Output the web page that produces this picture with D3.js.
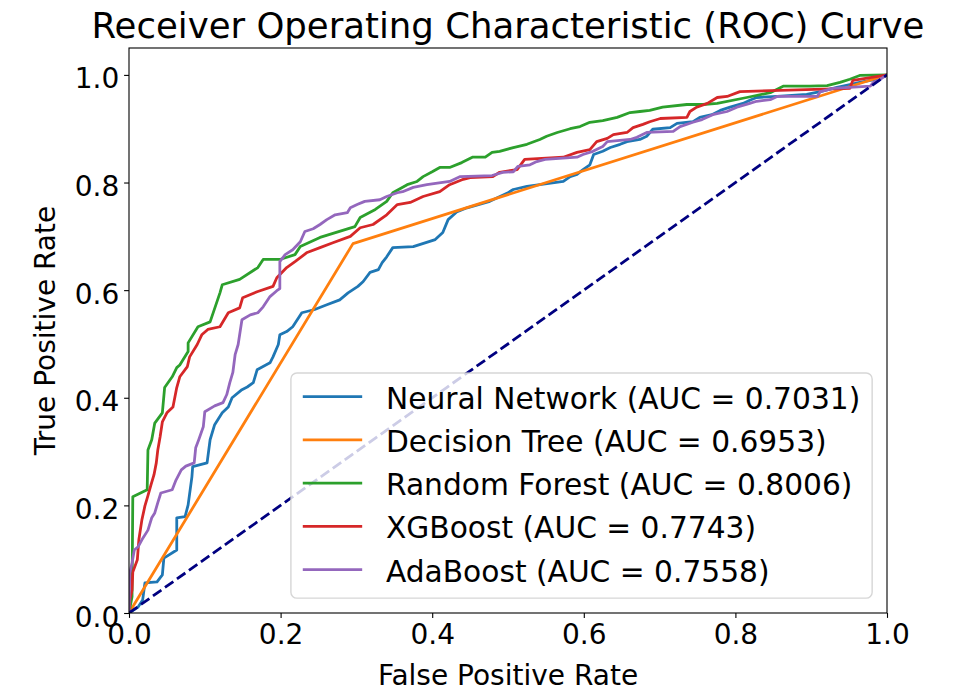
<!DOCTYPE html>
<html>
<head>
<meta charset="utf-8">
<script src="https://cdn.jsdelivr.net/npm/d3@7"></script>
<style>
  body { margin: 0; background: #fff; }
  svg { display: block; font-family: "DejaVu Sans", sans-serif; }
</style>
</head>
<body>
<div id="chart"></div>
<script>
// ROC points (fpr, tpr)
var nnFpr = [0, 0.012, 0.018, 0.021, 0.037, 0.044, 0.046, 0.063, 0.063, 0.074, 0.078, 0.083, 0.084, 0.103, 0.107, 0.113, 0.123, 0.131, 0.136, 0.149, 0.156, 0.164, 0.169, 0.186, 0.190, 0.197, 0.199, 0.208, 0.216, 0.228, 0.245, 0.261, 0.278, 0.289, 0.302, 0.309, 0.318, 0.329, 0.334, 0.340, 0.348, 0.375, 0.404, 0.414, 0.421, 0.433, 0.446, 0.476, 0.500, 0.507, 0.525, 0.542, 0.573, 0.582, 0.591, 0.599, 0.608, 0.613, 0.625, 0.635, 0.648, 0.657, 0.674, 0.683, 0.691, 0.714, 0.723, 0.744, 0.753, 0.769, 0.780, 0.793, 0.810, 0.819, 0.828, 0.855, 0.894, 0.912, 0.934, 0.951, 0.964, 0.987, 1];
var nnTpr = [0, 0.011, 0.024, 0.056, 0.058, 0.071, 0.102, 0.117, 0.177, 0.179, 0.201, 0.253, 0.272, 0.279, 0.322, 0.350, 0.372, 0.383, 0.400, 0.415, 0.420, 0.428, 0.452, 0.465, 0.476, 0.499, 0.517, 0.523, 0.532, 0.558, 0.564, 0.573, 0.582, 0.595, 0.607, 0.616, 0.633, 0.638, 0.651, 0.662, 0.679, 0.681, 0.694, 0.707, 0.731, 0.746, 0.753, 0.765, 0.781, 0.787, 0.793, 0.796, 0.802, 0.811, 0.815, 0.824, 0.833, 0.852, 0.858, 0.865, 0.871, 0.876, 0.880, 0.886, 0.899, 0.902, 0.910, 0.913, 0.921, 0.926, 0.934, 0.940, 0.947, 0.953, 0.958, 0.960, 0.964, 0.969, 0.977, 0.982, 0.986, 0.992, 1];

var dtFpr = [0, 0.2955, 1];
var dtTpr = [0, 0.6865, 1];

var rfFpr = [0, 0.004, 0.005, 0.024, 0.025, 0.030, 0.034, 0.044, 0.047, 0.057, 0.063, 0.067, 0.078, 0.078, 0.091, 0.107, 0.120, 0.123, 0.146, 0.170, 0.177, 0.199, 0.219, 0.226, 0.252, 0.298, 0.305, 0.325, 0.340, 0.348, 0.367, 0.380, 0.388, 0.400, 0.410, 0.423, 0.439, 0.453, 0.470, 0.479, 0.489, 0.507, 0.525, 0.542, 0.551, 0.565, 0.582, 0.595, 0.608, 0.625, 0.644, 0.661, 0.674, 0.687, 0.704, 0.736, 0.757, 0.776, 0.815, 0.846, 0.863, 0.898, 0.921, 0.938, 0.951, 0.964, 1];
var rfTpr = [0, 0.030, 0.216, 0.229, 0.303, 0.322, 0.353, 0.372, 0.419, 0.439, 0.456, 0.461, 0.486, 0.502, 0.532, 0.541, 0.595, 0.610, 0.620, 0.642, 0.657, 0.657, 0.666, 0.681, 0.698, 0.718, 0.735, 0.750, 0.765, 0.781, 0.796, 0.802, 0.811, 0.820, 0.828, 0.828, 0.837, 0.847, 0.847, 0.856, 0.858, 0.865, 0.871, 0.880, 0.886, 0.893, 0.900, 0.904, 0.912, 0.915, 0.921, 0.930, 0.932, 0.934, 0.940, 0.945, 0.945, 0.947, 0.958, 0.967, 0.979, 0.979, 0.980, 0.986, 0.992, 0.999, 1];

var xgFpr = [0, 0.001, 0.004, 0.005, 0.011, 0.013, 0.017, 0.021, 0.025, 0.029, 0.033, 0.036, 0.038, 0.041, 0.044, 0.050, 0.058, 0.063, 0.067, 0.077, 0.080, 0.090, 0.096, 0.104, 0.120, 0.131, 0.146, 0.150, 0.169, 0.190, 0.195, 0.208, 0.219, 0.235, 0.252, 0.269, 0.292, 0.305, 0.322, 0.340, 0.354, 0.371, 0.388, 0.410, 0.423, 0.441, 0.450, 0.480, 0.489, 0.512, 0.522, 0.573, 0.591, 0.608, 0.617, 0.631, 0.639, 0.657, 0.665, 0.678, 0.687, 0.701, 0.736, 0.740, 0.749, 0.763, 0.776, 0.789, 0.806, 0.951, 0.955, 0.978, 1];
var xgTpr = [0, 0.024, 0.043, 0.076, 0.099, 0.136, 0.173, 0.199, 0.218, 0.238, 0.257, 0.279, 0.303, 0.327, 0.355, 0.372, 0.383, 0.419, 0.439, 0.458, 0.476, 0.499, 0.517, 0.527, 0.532, 0.558, 0.567, 0.586, 0.597, 0.607, 0.623, 0.642, 0.653, 0.670, 0.679, 0.688, 0.700, 0.716, 0.722, 0.740, 0.759, 0.763, 0.774, 0.783, 0.796, 0.806, 0.809, 0.811, 0.819, 0.824, 0.843, 0.847, 0.856, 0.861, 0.876, 0.882, 0.889, 0.893, 0.902, 0.908, 0.913, 0.919, 0.921, 0.932, 0.940, 0.947, 0.958, 0.960, 0.969, 0.975, 0.990, 0.995, 1];

var adaFpr = [0, 0.001, 0.004, 0.007, 0.012, 0.017, 0.025, 0.030, 0.034, 0.038, 0.042, 0.057, 0.062, 0.069, 0.075, 0.086, 0.088, 0.092, 0.098, 0.100, 0.113, 0.124, 0.129, 0.133, 0.137, 0.140, 0.144, 0.149, 0.160, 0.170, 0.177, 0.186, 0.195, 0.199, 0.199, 0.206, 0.216, 0.226, 0.232, 0.243, 0.252, 0.261, 0.272, 0.288, 0.292, 0.301, 0.311, 0.331, 0.340, 0.354, 0.361, 0.375, 0.393, 0.423, 0.437, 0.479, 0.493, 0.507, 0.513, 0.529, 0.538, 0.549, 0.591, 0.599, 0.612, 0.625, 0.631, 0.661, 0.670, 0.683, 0.718, 0.727, 0.744, 0.756, 0.770, 0.789, 0.802, 0.819, 0.828, 0.846, 0.855, 0.908, 0.912, 0.929, 0.978, 0.982, 0.991, 1];
var adaTpr = [0, 0.074, 0.093, 0.117, 0.123, 0.136, 0.154, 0.177, 0.186, 0.205, 0.223, 0.229, 0.247, 0.266, 0.273, 0.279, 0.307, 0.322, 0.346, 0.374, 0.385, 0.391, 0.406, 0.428, 0.447, 0.480, 0.499, 0.545, 0.554, 0.558, 0.569, 0.588, 0.599, 0.603, 0.653, 0.666, 0.675, 0.690, 0.709, 0.714, 0.722, 0.731, 0.740, 0.744, 0.753, 0.759, 0.765, 0.768, 0.774, 0.781, 0.783, 0.791, 0.796, 0.802, 0.811, 0.813, 0.819, 0.820, 0.830, 0.833, 0.839, 0.843, 0.847, 0.852, 0.858, 0.867, 0.876, 0.880, 0.884, 0.893, 0.895, 0.904, 0.912, 0.917, 0.926, 0.932, 0.940, 0.947, 0.951, 0.954, 0.960, 0.960, 0.969, 0.975, 0.979, 0.986, 0.992, 1];

var models = ["Neural Network", "Decision Tree", "Random Forest", "XGBoost", "AdaBoost"];
var aucs = ["0.7031", "0.6953", "0.8006", "0.7743", "0.7558"];
var colors = ["#1f77b4", "#ff7f0e", "#2ca02c", "#d62728", "#9467bd"];
var fprs = [nnFpr, dtFpr, rfFpr, xgFpr, adaFpr];
var tprs = [nnTpr, dtTpr, rfTpr, xgTpr, adaTpr];

var xTicks = [0, 0.2, 0.4, 0.6, 0.8, 1.0];
var yTicks = [0, 0.2, 0.4, 0.6, 0.8, 1.0];

var W = 953, H = 692;
var margin = {top: 48, right: 66, bottom: 79, left: 129};
var pw = W - margin.left - margin.right;
var ph = H - margin.top - margin.bottom;
var tickFs = 28, labelFs = 28, titleFs = 35.5, legendFs = 29.7;
var lw = 2.78;

var svg = d3.select("#chart").append("svg")
    .attr("width", W).attr("height", H);

var x = d3.scaleLinear().domain([0, 1]).range([0, pw]);
var y = d3.scaleLinear().domain([0, 1.05]).range([ph, 0]);

var g = svg.append("g").attr("transform", "translate(" + margin.left + "," + margin.top + ")");

g.append("clipPath").attr("id", "plotclip")
  .append("rect").attr("width", pw).attr("height", ph);

var plot = g.append("g").attr("clip-path", "url(#plotclip)");

var line = d3.line()
    .x(function(d) { return x(d[0]); })
    .y(function(d) { return y(d[1]); });

models.forEach(function(m, i) {
    var pts = fprs[i].map(function(f, j) { return [f, tprs[i][j]]; });
    plot.append("path")
        .datum(pts)
        .attr("d", line)
        .attr("fill", "none")
        .attr("stroke", colors[i])
        .attr("stroke-width", lw)
        .attr("stroke-linejoin", "round")
        .attr("stroke-linecap", "square");
});

// chance line
plot.append("path")
    .datum([[0, 0], [1, 1]])
    .attr("d", line)
    .attr("fill", "none")
    .attr("stroke", "#000080")
    .attr("stroke-width", lw)
    .attr("stroke-dasharray", "10.3,4.4");

// axes
var xAxis = d3.axisBottom(x).tickValues(xTicks).tickFormat(d3.format(".1f")).tickSize(4.9).tickPadding(4.9);
var yAxis = d3.axisLeft(y).tickValues(yTicks).tickFormat(d3.format(".1f")).tickSize(4.9).tickPadding(4.9);

var gx = g.append("g").attr("transform", "translate(0," + ph + ")").call(xAxis);
var gy = g.append("g").call(yAxis);

[gx, gy].forEach(function(a) {
    a.select(".domain").remove();
    a.selectAll(".tick line").attr("stroke", "#000").attr("stroke-width", 1.1);
    a.selectAll(".tick text")
        .attr("font-family", "DejaVu Sans")
        .attr("font-size", tickFs)
        .attr("fill", "#000");
});
gx.selectAll(".tick text").attr("dy", null).attr("y", 4.9 + 4.9 + 0.76 * tickFs);
gy.selectAll(".tick text").attr("dy", null).attr("y", 13);

// spines
g.append("rect")
    .attr("width", pw).attr("height", ph)
    .attr("fill", "none").attr("stroke", "#000").attr("stroke-width", 1.1);

// title and labels
svg.append("text")
    .attr("x", margin.left + pw / 2).attr("y", 38)
    .attr("text-anchor", "middle")
    .attr("font-size", titleFs)
    .text("Receiver Operating Characteristic (ROC) Curve");

svg.append("text")
    .attr("x", margin.left + pw / 2).attr("y", 685)
    .attr("text-anchor", "middle")
    .attr("font-size", labelFs)
    .text("False Positive Rate");

svg.append("text")
    .attr("transform", "translate(55," + (margin.top + ph / 2) + ") rotate(-90)")
    .attr("text-anchor", "middle")
    .attr("font-size", labelFs)
    .text("True Positive Rate");

// legend, lower right
var pad = 0.4 * legendFs, handleLen = 2 * legendFs, handlePad = 0.8 * legendFs;
var axPad = 0.5 * legendFs, rowH = 28.4, rowGap = 0.5 * legendFs;

var leg = g.append("g");
var frame = leg.append("rect");
var rows = leg.selectAll("g.row").data(models).enter().append("g").attr("class", "row");

rows.append("text")
    .attr("font-size", legendFs)
    .attr("x", pad + handleLen + handlePad)
    .attr("y", function(d, i) { return pad + i * (rowH + rowGap) + 0.84 * rowH; })
    .text(function(d, i) { return d + " (AUC = " + aucs[i] + ")"; });

rows.append("line")
    .attr("x1", pad).attr("x2", pad + handleLen)
    .attr("y1", function(d, i) { return pad + i * (rowH + rowGap) + 0.84 * rowH - 12; })
    .attr("y2", function(d, i) { return pad + i * (rowH + rowGap) + 0.84 * rowH - 12; })
    .attr("stroke", function(d, i) { return colors[i]; })
    .attr("stroke-width", lw);

var maxW = 0;
rows.selectAll("text").each(function() {
    var w = this.getComputedTextLength();
    if (w > maxW) { maxW = w; }
});
var boxW = pad * 2 + handleLen + handlePad + maxW;
var boxH = pad * 2 + models.length * rowH + (models.length - 1) * rowGap;

frame.attr("width", boxW).attr("height", boxH)
    .attr("rx", 6).attr("ry", 6)
    .attr("fill", "#fff").attr("fill-opacity", 0.8)
    .attr("stroke", "#ccc").attr("stroke-opacity", 0.8).attr("stroke-width", 1.4);

leg.attr("transform", "translate(" + (pw - axPad - boxW) + "," + (ph - axPad - boxH) + ")");
</script>
</body>
</html>
